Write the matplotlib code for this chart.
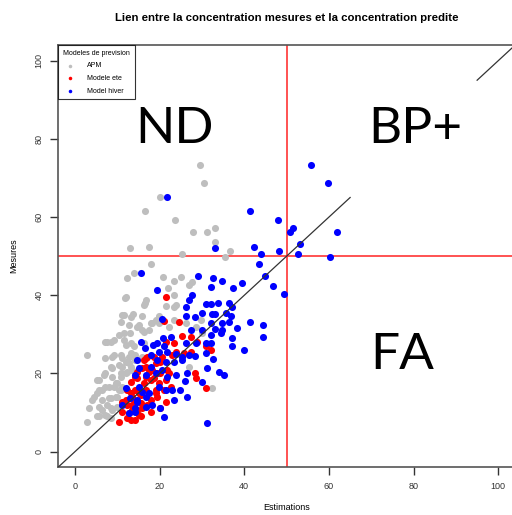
import matplotlib
matplotlib.use('Agg')
import matplotlib.pyplot as plt
import numpy as np

plt.rcParams['font.family'] = ['Liberation Sans', 'DejaVu Sans']

# modele APM (gris)
apm = np.array([
    [29.6, 73.3], [30.5, 68.8], [20.1, 65.2], [16.5, 61.6], [23.7, 59.3], [27.9, 56.3],
    [31.3, 56.3], [33.2, 57.3], [13.0, 52.0], [17.5, 52.3], [25.3, 50.6], [33.2, 53.5],
    [36.7, 51.3], [35.4, 49.9], [17.9, 48.0], [13.9, 45.6], [12.2, 44.3], [20.8, 44.6],
    [23.4, 43.7], [25.0, 44.6], [26.9, 42.6], [27.7, 43.5], [22.0, 41.9], [23.4, 40.1],
    [11.8, 39.4], [16.5, 38.0], [16.8, 38.8], [21.4, 37.3], [23.4, 37.1], [11.2, 35.0],
    [13.7, 35.2], [13.2, 34.5], [15.8, 34.7], [19.8, 34.7], [17.9, 33.0], [15.1, 32.4],
    [10.4, 29.8], [13.0, 30.3], [15.8, 31.1], [7.2, 28.1], [8.4, 28.1], [12.0, 27.3],
    [13.9, 26.9], [2.9, 24.7], [7.2, 23.9], [8.8, 24.3], [11.2, 23.9], [13.2, 25.2],
    [3.3, 11.1], [2.9, 7.7], [4.1, 13.2], [5.7, 18.3], [5.3, 14.9], [7.2, 20.0],
    [8.8, 21.3], [6.4, 15.8], [8.0, 16.6], [9.6, 17.5], [6.4, 13.2], [8.0, 13.7],
    [9.6, 14.1], [6.4, 10.7], [8.4, 11.1], [10.0, 11.5], [5.7, 9.0], [7.6, 9.0],
    [11.2, 21.7], [12.8, 22.6], [14.3, 23.5], [15.9, 24.3], [10.8, 19.2], [12.0, 20.0],
    [13.5, 20.9], [10.4, 15.8], [11.2, 16.6], [22.2, 32.0], [23.4, 33.7], [26.2, 32.8],
    [28.5, 32.0], [29.7, 33.7], [30.1, 30.3], [31.3, 26.9], [32.4, 16.2], [26.9, 21.7],
    [19.8, 32.8], [12.0, 39.5], [16.3, 37.5], [11.6, 35.0], [19.1, 33.7], [18.3, 32.8],
    [10.8, 33.2], [12.8, 32.4], [14.7, 32.0], [11.6, 30.3], [16.3, 30.7], [17.5, 31.1],
    [7.6, 28.1], [9.2, 28.6], [11.6, 28.6], [13.2, 27.7], [16.3, 27.7], [9.2, 24.7],
    [10.8, 24.7], [12.8, 24.3], [14.3, 24.7], [8.4, 21.7], [10.4, 22.2], [12.0, 23.0],
    [13.2, 21.7], [5.3, 18.3], [6.9, 19.6], [8.8, 19.2], [10.8, 20.0], [12.4, 20.5],
    [5.7, 15.8], [7.2, 16.6], [9.2, 16.6], [10.8, 15.8], [10.0, 17.5], [4.5, 14.1],
    [8.4, 13.7], [10.0, 14.1], [5.7, 11.5], [7.6, 11.9], [8.8, 10.7], [5.3, 9.0],
    [7.2, 9.4], [8.4, 8.5], [23.8, 37.5],
])

# modele ete (rouge)
ete = np.array([
    [21.4, 39.5], [21.0, 33.4], [24.6, 33.1], [25.3, 29.7], [27.3, 29.4], [23.4, 27.7],
    [21.4, 28.1], [28.9, 28.1], [30.9, 26.9], [32.1, 26.0], [20.6, 24.3], [17.1, 24.3],
    [16.3, 23.5], [19.1, 22.6], [25.7, 25.2], [27.3, 25.6], [28.3, 20.0], [28.5, 18.8],
    [30.9, 16.4], [21.4, 12.8], [17.9, 13.2], [19.1, 14.9], [13.2, 17.9], [14.3, 19.2],
    [16.7, 19.2], [17.9, 18.3], [13.2, 14.9], [13.9, 13.2], [15.5, 14.5], [16.7, 15.8],
    [12.4, 11.9], [13.5, 10.7], [15.1, 9.4], [15.9, 11.1], [10.4, 7.7], [13.2, 8.1],
    [15.5, 9.0], [17.9, 10.2], [19.1, 15.8], [19.8, 17.5], [21.4, 18.3], [22.2, 20.0],
    [16.7, 21.7], [18.3, 20.9], [19.4, 20.0], [14.7, 20.5], [15.9, 21.3], [23.8, 25.6],
    [23.0, 24.7], [11.2, 12.8], [20.2, 11.1], [14.3, 15.8], [17.1, 11.9],
    [16.7, 23.9], [18.7, 24.3], [20.2, 23.0], [17.5, 20.5], [14.7, 18.8], [16.3, 17.5],
    [12.4, 15.8], [13.5, 14.1], [15.1, 14.9], [12.0, 13.2], [13.5, 11.9], [15.5, 12.4],
    [11.2, 10.2], [12.8, 9.8], [14.7, 10.7], [12.4, 8.5], [14.3, 8.1], [19.4, 14.1],
    [21.0, 15.8], [22.6, 16.6], [18.7, 18.8], [20.2, 20.0], [21.8, 20.9],
])

# modele hiver (bleu)
hiver = np.array([
    [55.8, 73.3], [59.8, 68.8], [21.8, 65.2], [41.3, 61.6], [48.0, 59.3], [50.7, 56.3],
    [51.6, 57.1], [62.0, 56.3], [53.1, 53.0], [33.2, 52.0], [42.4, 52.3], [44.0, 50.6],
    [48.2, 51.3], [52.8, 50.5], [60.2, 49.9], [43.5, 48.0], [45.0, 44.8], [46.8, 42.4],
    [49.4, 40.3], [15.7, 45.6], [29.1, 44.8], [32.6, 44.3], [34.8, 43.7], [32.1, 42.0],
    [37.4, 41.8], [39.5, 43.2], [19.4, 41.4], [27.6, 40.1], [26.9, 38.8], [30.9, 37.8],
    [32.1, 37.8], [33.9, 38.0], [36.4, 38.0], [37.2, 37.1], [26.2, 37.1], [30.1, 35.4],
    [32.4, 35.2], [33.2, 35.2], [35.7, 35.4], [26.2, 34.7], [28.3, 34.5], [36.8, 34.7],
    [20.5, 33.9], [32.1, 32.8], [34.8, 32.8], [36.4, 33.2], [41.3, 33.1], [44.5, 32.4],
    [38.3, 31.7], [30.1, 31.1], [33.2, 31.3], [34.8, 31.1], [27.4, 31.1], [32.1, 29.8],
    [34.4, 30.3], [44.4, 29.4], [37.2, 29.0], [22.8, 29.4], [20.9, 29.0], [15.5, 28.1],
    [18.4, 27.3], [19.4, 27.7], [21.0, 26.9], [26.2, 27.7], [28.5, 27.7], [30.9, 27.7],
    [32.1, 27.7], [37.2, 27.0], [40.0, 26.0], [16.5, 26.4], [17.9, 24.7], [19.8, 25.6],
    [21.8, 25.6], [23.9, 25.0], [25.3, 24.3], [26.9, 24.7], [28.3, 24.5], [30.9, 25.2],
    [32.7, 23.7], [14.7, 23.5], [19.4, 23.5], [21.4, 23.0], [23.4, 23.0], [25.3, 23.5],
    [15.1, 21.3], [17.9, 21.7], [20.6, 20.9], [31.3, 21.3], [34.0, 20.5], [35.2, 19.6],
    [14.2, 19.6], [16.7, 19.6], [19.1, 20.0], [21.8, 19.2], [23.8, 19.6], [26.5, 20.0],
    [30.1, 17.9], [26.0, 18.2], [12.0, 16.2], [15.1, 16.6], [15.9, 15.3], [17.5, 14.9],
    [19.8, 16.6], [21.4, 15.8], [23.0, 15.8], [24.7, 15.8], [26.5, 14.1], [12.9, 13.7],
    [14.7, 13.2], [16.7, 14.1], [23.4, 13.2], [11.2, 11.9], [14.3, 11.1], [16.7, 11.5],
    [18.3, 11.9], [14.7, 12.8], [20.2, 11.1], [21.0, 8.8], [31.2, 7.4], [12.8, 9.8],
    [14.3, 10.2],
])

seuil = 50
zones = [('ND', 23.6, 82.5), ('BP+', 80.5, 82.5), ('FA', 77.3, 24.8)]
diag = [(-5, 65), (95, 106)]

fig = plt.figure(figsize=(5.12, 5.15), dpi=100)
ax = fig.add_axes([0.1133, 0.0926, 0.893, 0.820])

ax.scatter(apm[:, 0], apm[:, 1], s=26, c='#bebebe', linewidths=0, label='APM', zorder=2)
ax.scatter(ete[:, 0], ete[:, 1], s=26, c='#ff0000', linewidths=0, label='Modele ete', zorder=3)
ax.scatter(hiver[:, 0], hiver[:, 1], s=26, c='#0000ff', linewidths=0, label='Model hiver', zorder=4)

for a, b in diag:
    ax.plot([a, b], [a, b], color='#333333', lw=0.9, zorder=5)
ax.axvline(seuil, color='#ff4444', lw=1.3, zorder=1)
ax.axhline(seuil, color='#ff4444', lw=1.3, zorder=1)

for txt, x, y in zones:
    ax.text(x, y, txt, fontsize=37, family=['Lato', 'DejaVu Sans'],
            ha='center', va='center', color='black', zorder=6)

ax.set_xlim(-4, 104)
ax.set_ylim(-4, 104)
ax.set_xticks([0, 20, 40, 60, 80, 100])
ax.set_yticks([0, 20, 40, 60, 80, 100])
ax.tick_params(direction='out', length=5.5, width=1, colors='#333333', labelsize=6.5)
ax.tick_params(axis='x', pad=5)
ax.tick_params(axis='y', pad=5)
for lab in ax.get_yticklabels():
    lab.set_rotation(90)
    lab.set_va('center')
for sp in ax.spines.values():
    sp.set_color('#555555')
    sp.set_linewidth(1.2)

ax.set_xlabel('Estimations', fontsize=6.5, labelpad=9)
ax.set_ylabel('Mesures', fontsize=6.5, labelpad=12)
ax.set_title('Lien entre la concentration mesures et la concentration predite',
             fontsize=8.2, fontweight='bold', pad=17)

leg = ax.legend(loc='upper left', title='Modeles de prevision', fontsize=5, title_fontsize=5,
                frameon=True, fancybox=False, edgecolor='black', borderaxespad=0,
                markerscale=0.5, handletextpad=1.5, labelspacing=0.8, borderpad=0.7,
                alignment='left')
leg.get_frame().set_linewidth(0.8)
leg.set_zorder(7)

fig.savefig('out.png', dpi=100)
